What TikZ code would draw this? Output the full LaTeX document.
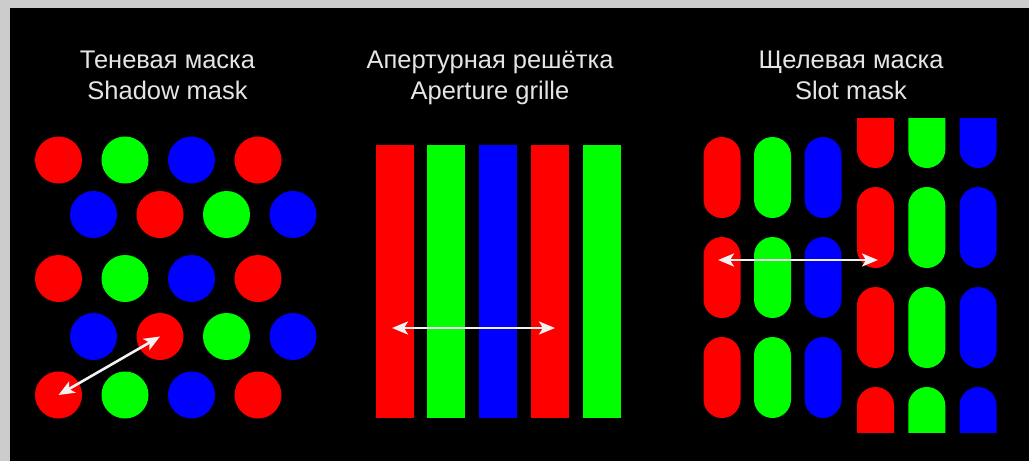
\documentclass[tikz,border=0pt]{standalone}
\usepackage{fontspec}
\setmainfont{Liberation Sans}
\usetikzlibrary{arrows.meta}

\begin{document}
\begin{tikzpicture}[
        x=1pt, y=-1pt,
        dot/.style={circle, inner sep=0pt, minimum size=47pt},
        bar/.style={rectangle, inner sep=0pt, minimum width=38pt, minimum height=273pt},
        slot/.style={rectangle, rounded corners=18.5pt, inner sep=0pt, minimum width=37pt, minimum height=81pt},
        title/.style={anchor=base, text=white!90!black, font=\fontsize{25.5}{31}\selectfont},
        pitch/.style={draw=white!95!black, line width=2.6pt, {Stealth[length=16pt,width=13pt,inset=4pt]}-{Stealth[length=16pt,width=13pt,inset=4pt]}},
        >=Stealth
    ]
        \useasboundingbox (0,0) rectangle (1029,461);
        \fill[black!20] (0,0) rectangle (1029,461);
        \fill[black] (10,8) rectangle (1029,461);

        \node[title] (shadow-ru) at (167.5,68) {Теневая маска};
        \node[title] (shadow-en) at (167.5,99) {Shadow mask};
        \node[title] (grille-ru) at (490,68) {Апертурная решётка};
        \node[title] (grille-en) at (490,99) {Aperture grille};
        \node[title] (slot-ru) at (851,68) {Щелевая маска};
        \node[title] (slot-en) at (851,99) {Slot mask};

        \foreach \row/\y/\xo/\ca/\cb/\cc/\cd in {1/160/58.5/red/green/blue/red, 2/214.5/93.5/blue/red/green/blue,
                3/278.5/58.5/red/green/blue/red, 4/336.5/93.5/blue/red/green/blue, 5/395/58.5/red/green/blue/red}
            \foreach \c [count=\k from 0] in {\ca,\cb,\cc,\cd}
                \node[dot, fill=\c] (s\row-\k) at (\xo+66.5*\k, \y) {};
        \draw[pitch] (s5-0.center) -- (s4-1.center);

        \foreach \c [count=\k from 0] in {red,green,blue,red,green}
            \node[bar, fill=\c] (a\k) at (394.5+51.9*\k, 281.5) {};
        \coordinate (ag-left) at (392,328);
        \coordinate (ag-right) at (555,328);
        \draw[pitch] (ag-left) -- (ag-right);

        \foreach \c [count=\k from 0] in {red,green,blue}
            \foreach \row in {0,1,2}
                \node[slot, fill=\c] (l\row-\k) at (722+50.5*\k, 177.5+100*\row) {};
        \begin{scope}
            \clip (850,118) rectangle (1005,432);
            \foreach \c [count=\k from 0] in {red,green,blue}
                \foreach \row in {0,1,2,3}
                    \node[slot, fill=\c] (r\row-\k) at (875.5+51.3*\k, 127.5+100*\row) {};
        \end{scope}
        \coordinate (sm-left) at (718,260);
        \coordinate (sm-right) at (878,260);
        \draw[pitch] (sm-left) -- (sm-right);
    \end{tikzpicture}
\end{document}
